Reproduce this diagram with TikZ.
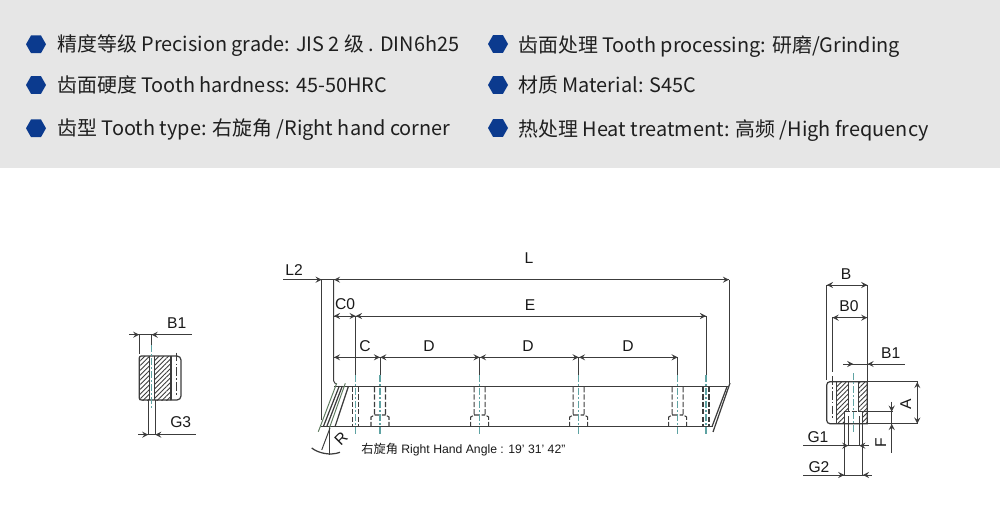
\documentclass[tikz,border=0pt]{standalone}
\usepackage{fontspec}
\usepackage{tikz}
\usetikzlibrary{patterns.meta}
\setmainfont{Liberation Sans}
\newfontfamily\cjk{Noto Sans CJK SC}
\definecolor{headbg}{HTML}{E6E6E6}
\definecolor{hexblue}{HTML}{0B3A8E}
\definecolor{inkline}{HTML}{3C3C3C}
\definecolor{slantgreen}{HTML}{5E7A5E}
\definecolor{centerteal}{HTML}{5FA3A3}
\tikzset{
  spec/.style={anchor=base west, inner sep=0pt, text=black!88, font=\cjk\fontsize{11.33}{13}\selectfont},
  dimtext/.style={inner sep=0pt, text=black!90, font=\fontsize{8.9}{10}\selectfont},
  part/.style={draw=inkline, line width=0.7pt},
  dim/.style={draw=inkline, line width=0.55pt},
  tip/.style={draw=inkline, line width=0.55pt, ->, >=stealth},
  hidden/.style={draw=inkline, line width=0.6pt, dash pattern=on 3pt off 1.2pt},
  axis/.style={draw=centerteal, line width=0.6pt, dash pattern=on 4pt off 1.2pt on 1pt off 1.2pt},
  hatched/.style={pattern={Lines[angle=45,distance=1.9pt,line width=0.5pt]}, pattern color=inkline},
}
\begin{document}
\begin{tikzpicture}[x=0.02cm,y=-0.02cm]
\useasboundingbox (0,0) rectangle (1000,520);
\fill[headbg] (0,0) rectangle (1000,168);
% spec list
\foreach \bx/\by in {36/44.3,36/85,36/128.3,498/44,498/85,498/128}
  \fill[hexblue] (\bx-10,\by) -- (\bx-5,\by-8.8) -- (\bx+5,\by-8.8) -- (\bx+10,\by) -- (\bx+5,\by+8.8) -- (\bx-5,\by+8.8) -- cycle;
\node[spec] (s1) at (57,52){精度等级 Precision grade: JIS 2 级 . DIN6h25};
\node[spec] (s2) at (57,92.7){齿面硬度 Tooth hardness: 45-50HRC};
\node[spec] (s3) at (57,135.7){齿型 Tooth type: 右旋角 /Right hand corner};
\node[spec] (s4) at (518,52.7){齿面处理 Tooth processing: 研磨/Grinding};
\node[spec] (s5) at (518,92.7){材质 Material: S45C};
\node[spec] (s6) at (518,136.7){热处理 Heat treatment: 高频 /High frequency};
% rack, side view
\draw[part] (334,386.7) -- (728,386.7);
\draw[part] (321,426.7) -- (713,426.7);
\draw[part] (730,383) -- (713,432);
\draw[part] (727,386.7) -- (712,426.7);
\draw[dim,slantgreen] (336.7,383.3) -- (318.3,431.7);
\draw[part] (339.3,386) -- (323.3,426.7);
\draw[part] (342.3,386) -- (326.7,426.7);
\draw[dim,slantgreen] (345.3,383.3) -- (329.3,428.3);
\draw[part] (348.3,386.7) -- (335,426.7);
% extension lines
\draw[dim] (321.7,280) -- (321.7,420);
\draw[dim] (333.7,280) -- (333.7,381) -- (335.5,384);
\draw[dim] (729,280) -- (729,383);
\draw[dim] (706,316) -- (706,375);
\draw[dim] (355.7,316) -- (355.7,375);
\draw[dim] (380,357.3) -- (380,375);
\draw[dim] (479.7,357.3) -- (479.7,375);
\draw[dim] (578.7,357.3) -- (578.7,375);
\draw[dim] (677.7,357.3) -- (677.7,375);
% dimension lines
\draw[dim] (283,279.7) -- (729,279.7);
\draw[dim] (334,316) -- (706,316);
\draw[dim] (334,357.3) -- (677.7,357.3);
\draw[tip] (315,279.7) -- (321.7,279.7);
\draw[tip] (340,279.7) -- (333.9,279.7);
\draw[tip] (722,279.7) -- (729,279.7);
\draw[tip] (340,316) -- (333.9,316);
\draw[tip] (349,316) -- (355.7,316);
\draw[tip] (362,316) -- (355.9,316);
\draw[tip] (699,316) -- (706,316);
\draw[tip] (340,357.3) -- (333.9,357.3);
\draw[tip] (373,357.3) -- (380,357.3);
\draw[tip] (386,357.3) -- (380.2,357.3);
\draw[tip] (473,357.3) -- (479.7,357.3);
\draw[tip] (486,357.3) -- (479.9,357.3);
\draw[tip] (572,357.3) -- (578.7,357.3);
\draw[tip] (585,357.3) -- (578.9,357.3);
\draw[tip] (671,357.3) -- (677.7,357.3);
% holes
\draw[hidden] (352.7,387) -- (352.7,426.7) (358.7,387) -- (358.7,426.7);
\draw[hidden] (703,387) -- (703,426.7) (709,387) -- (709,426.7);
\draw[hidden] (374.5,387) -- (374.5,415) -- (371,417) -- (371,426.7) (385.5,387) -- (385.5,415) -- (389,417) -- (389,426.7) (374.5,415) -- (385.5,415);
\draw[hidden] (474.2,387) -- (474.2,415) -- (470.7,417) -- (470.7,426.7) (485.2,387) -- (485.2,415) -- (488.7,417) -- (488.7,426.7) (474.2,415) -- (485.2,415);
\draw[hidden] (573.2,387) -- (573.2,415) -- (569.7,417) -- (569.7,426.7) (584.2,387) -- (584.2,415) -- (587.7,417) -- (587.7,426.7) (573.2,415) -- (584.2,415);
\draw[hidden] (672.2,387) -- (672.2,415) -- (668.7,417) -- (668.7,426.7) (683.2,387) -- (683.2,415) -- (686.7,417) -- (686.7,426.7) (672.2,415) -- (683.2,415);
\draw[axis] (355.7,375) -- (355.7,435);
\draw[axis] (380,375) -- (380,435);
\draw[axis] (479.7,375) -- (479.7,435);
\draw[axis] (578.7,375) -- (578.7,435);
\draw[axis] (677.7,375) -- (677.7,435);
\draw[axis] (706,375) -- (706,435);
% angle mark
\draw[dim] (329.3,428) -- (329.3,455);
\draw[dim] (330,428) -- (321.7,450);
\draw[part] (311.7,448) .. controls (318,453) and (330,456) .. (340,452.3);
\node[dimtext,rotate=45] (rmark) at (341,439){R};
\node[inner sep=0pt,text=black!90,anchor=west,font=\fontsize{6.95}{8}\selectfont] (angle) at (361,449.5){{\cjk 右旋角} Right Hand Angle : 19' 31' 42"};
\node[dimtext] (l2) at (294,270){L2};
\node[dimtext] (l) at (529,258){L};
\node[dimtext] (c0) at (345,304){C0};
\node[dimtext] (e) at (530,305){E};
\node[dimtext] (c) at (365,346){C};
\node[dimtext] (d1) at (429,346){D};
\node[dimtext] (d2) at (528,346){D};
\node[dimtext] (d3) at (628,346){D};
% left end view
\fill[hatched] (139.3,356) rectangle (149.3,400);
\fill[hatched] (154.3,356) rectangle (171,400);
\draw[part] (141.3,356) -- (177,356) arc[start angle=-90,end angle=0,radius=4] -- (181,396) arc[start angle=0,end angle=90,radius=4] -- (141.3,400) arc[start angle=90,end angle=180,radius=2] -- (139.3,358) arc[start angle=180,end angle=270,radius=2];
\draw[part] (149.3,356) -- (149.3,400);
\draw[part] (154.3,356) -- (154.3,400);
\draw[part] (171,356) -- (171,400);
\draw[dim,dash pattern=on 5pt off 1.2pt on 1pt off 1.2pt] (176.3,352.7) -- (176.3,396);
\draw[dim] (139.3,334.7) -- (139.3,354);
\draw[dim] (129,334.7) -- (191.7,334.7);
\draw[tip] (132.5,334.7) -- (139.3,334.7);
\draw[tip] (158,334.7) -- (151.6,334.7);
\draw[dim] (151.3,334.7) -- (151.3,345);
\draw[axis] (151.6,345) -- (151.6,408);
\draw[dim] (148.3,400) -- (148.3,434.7);
\draw[dim] (155,400) -- (155,434.7);
\draw[dim] (138.3,434.7) -- (196,434.7);
\draw[tip] (141.5,434.7) -- (148.3,434.7);
\draw[tip] (161.5,434.7) -- (155.2,434.7);
\node[dimtext] (b1l) at (176.7,323.3){B1};
\node[dimtext] (g3) at (180.7,422.3){G3};
% right end view
\fill[hatched] (836.7,381.7) rectangle (848.3,411.7);
\fill[hatched] (858.3,381.7) rectangle (867.3,411.7);
\fill[hatched] (862.7,411.7) rectangle (867.3,423.7);
\fill[hatched] (836.7,411.7) rectangle (844.3,423.7);
\draw[part] (830,381.7) -- (867.3,381.7) -- (867.3,423.7) -- (830,423.7) arc[start angle=90,end angle=180,radius=3.3] -- (826.7,385) arc[start angle=180,end angle=270,radius=3.3];
\draw[part] (836.7,381.7) -- (836.7,423.7);
\draw[part] (848.3,381.7) -- (848.3,411.7);
\draw[part] (858.3,381.7) -- (858.3,411.7);
\draw[hidden] (844.3,411.7) -- (862.7,411.7);
\draw[part] (844.3,411.7) -- (844.3,423.7);
\draw[part] (862.7,411.7) -- (862.7,423.7);
\draw[dim,dash pattern=on 5pt off 1.2pt on 1pt off 1.2pt] (832.3,376) -- (832.3,420);
\draw[axis] (853.3,373) -- (853.3,431.7);
% right view dimensions
\draw[dim] (826.7,285) -- (826.7,380);
\draw[dim] (867.3,285) -- (867.3,381);
\draw[dim] (832.3,317.7) -- (832.3,372);
\draw[dim] (826.7,285) -- (867.3,285);
\draw[dim] (832.3,317.7) -- (867.3,317.7);
\draw[tip] (833.5,285) -- (826.9,285);
\draw[tip] (860.5,285) -- (867.3,285);
\draw[tip] (839,317.7) -- (832.5,317.7);
\draw[tip] (860.5,317.7) -- (867.3,317.7);
\draw[dim] (843,364) -- (905,364);
\draw[tip] (846.5,364) -- (853.3,364);
\draw[tip] (874,364) -- (867.5,364);
\node[dimtext] (b) at (846,274){B};
\node[dimtext] (b0) at (849,306){B0};
\node[dimtext] (b1r) at (890.7,352.7){B1};
\draw[dim] (867.3,381.7) -- (918,381.7);
\draw[dim] (867.3,423.7) -- (918,423.7);
\draw[dim] (917.3,381.7) -- (917.3,423.7);
\draw[tip] (917.3,388) -- (917.3,381.9);
\draw[tip] (917.3,417) -- (917.3,423.7);
\node[dimtext,rotate=90] (a) at (905.7,404){A};
\draw[dim] (858.3,411.7) -- (893,411.7);
\draw[dim] (891.7,401.7) -- (891.7,452.7);
\draw[tip] (891.7,405) -- (891.7,411.7);
\draw[tip] (891.7,430) -- (891.7,423.9);
\node[dimtext,rotate=90] (f) at (880.7,443){F};
\draw[dim] (848.3,416) -- (848.3,445.7);
\draw[dim] (859,416) -- (859,445.7);
\draw[dim] (844.3,423.7) -- (844.3,475);
\draw[dim] (862.7,423.7) -- (862.7,475);
\draw[dim] (803.3,445.7) -- (869,445.7);
\draw[dim] (803.3,475) -- (872,475);
\draw[tip] (842,445.7) -- (848.3,445.7);
\draw[tip] (865,445.7) -- (859.2,445.7);
\draw[tip] (838,475) -- (844.3,475);
\draw[tip] (869,475) -- (862.9,475);
\node[dimtext] (g1) at (818,436.7){G1};
\node[dimtext] (g2) at (819,466.7){G2};
\end{tikzpicture}
\end{document}
